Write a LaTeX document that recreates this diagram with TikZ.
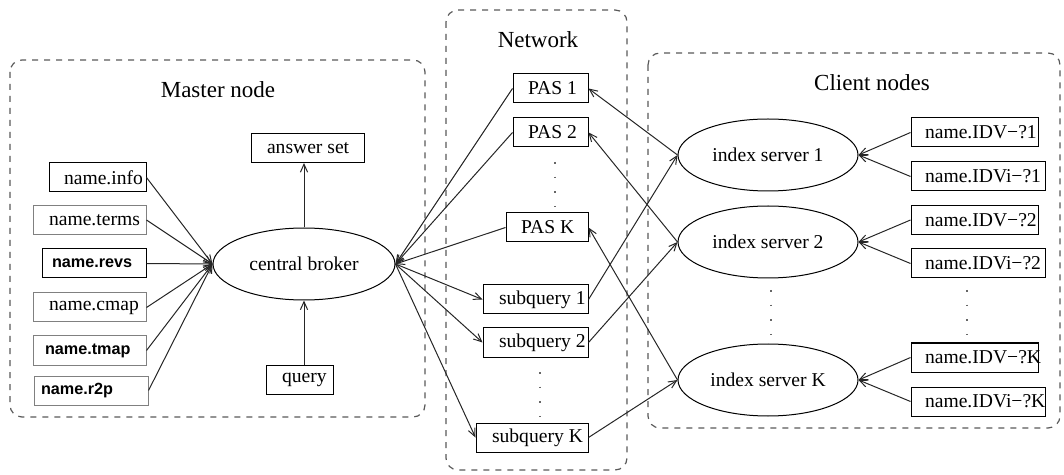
\documentclass[tikz,border=0pt]{standalone}
\usepackage{fontspec}
\setmainfont{Liberation Serif}
\newfontfamily\boldsans{Liberation Sans}
\usetikzlibrary{shapes.geometric,arrows.meta}
\newcommand\padtxt[3]{\makebox[#1][l]{\hspace{#2}#3}}
\begin{document}
\begin{tikzpicture}[x=0.5pt,y=-0.5pt,
  box/.style={draw, line width=0.5pt, inner sep=0pt, minimum height=14.5pt, font=\fontsize{9.8}{11}\selectfont},
  gbox/.style={box, draw=black!50},
  bs/.style={font=\fontsize{8.1}{10}\selectfont\boldsans\bfseries},
  ell/.style={draw, ellipse, line width=0.5pt, inner sep=0pt, minimum width=90pt, minimum height=36pt, font=\fontsize{9.8}{11}\selectfont},
  region/.style={draw=black!65, dashed, line width=0.6pt, rounded corners=6pt},
  title/.style={font=\fontsize{11.5}{13}\selectfont},
  arr/.style={line width=0.5pt, draw=black!85, -{Straight Barb[length=4pt,width=3.6pt]}},
  vdots/.style={line width=0.9pt, dash pattern=on 0.8pt off 6.5pt, draw=black!60}]
\useasboundingbox (0,0) rectangle (1064,475);

% regions
\draw[region] (10,60) rectangle (425,417);
\draw[region] (446,10) rectangle (627,470);
\draw[region] (648,53) rectangle (1060,428);
\node[title] (tmaster) at (218,90) {Master node};
\node[title] (tnet) at (538,40) {Network};
\node[title] (tclient) at (872,83) {Client nodes};

% master node
\node[box] (info) at (97.5,177.5) {\padtxt{48.5pt}{7.5pt}{name.info}};
\node[gbox] (terms) at (89.5,220) {\padtxt{56.5pt}{8pt}{name.terms}};
\node[box,bs] (revs) at (94,263.5) {\padtxt{52pt}{5pt}{name.revs}};
\node[gbox] (cmap) at (89.5,307.5) {\padtxt{56.5pt}{8pt}{name.cmap}};
\node[gbox,bs] (tmap) at (89.5,350.5) {\padtxt{56.5pt}{6pt}{name.tmap}};
\node[gbox,bs] (r2p) at (91,390.5) {\padtxt{57pt}{3.5pt}{name.r2p}};
\node[ell, minimum width=91pt] (broker) at (304,264) {central broker};
\node[box] (answer) at (307.5,148) {\padtxt{56.5pt}{8pt}{answer set}};
\node[box] (query) at (299.5,380) {\padtxt{33.5pt}{8pt}{query}};

\foreach \n in {info,terms,revs,cmap,tmap,r2p}
  \draw[arr] (\n.east) -- (broker.west);
\draw[arr] (broker.north) -- (broker.north |- answer.south);
\draw[arr] (broker.south |- query.north) -- (broker.south);

% network
\node[box] (pas1) at (550.5,88.5) {\padtxt{37.5pt}{7.5pt}{PAS 1}};
\node[box] (pas2) at (550.5,132.5) {\padtxt{37.5pt}{7.5pt}{PAS 2}};
\node[box] (pask) at (547,227.5) {\padtxt{41pt}{7.5pt}{PAS K}};
\node[box] (sq1) at (535.5,299.5) {\padtxt{52.5pt}{8pt}{subquery 1}};
\node[box] (sq2) at (535.5,342.5) {\padtxt{52.5pt}{8pt}{subquery 2}};
\node[box] (sqk) at (532,437.5) {\padtxt{56pt}{8pt}{subquery K}};
\draw[vdots] (555,162) -- (555,210);
\draw[vdots] (540,372) -- (540,420);

% client nodes
\node[ell] (is1) at (768,155) {index server 1};
\node[ell] (is2) at (768,242) {index server 2};
\node[ell] (isk) at (768,380) {index server K};
\node[box] (v1) at (974.5,132.5) {\padtxt{63.5pt}{7pt}{name.IDV−?1}};
\node[box] (vi1) at (978,176.5) {\padtxt{67pt}{7pt}{name.IDVi−?1}};
\node[box] (v2) at (974.5,220) {\padtxt{63.5pt}{7pt}{name.IDV−?2}};
\node[box] (vi2) at (978,263.5) {\padtxt{67pt}{7pt}{name.IDVi−?2}};
\node[box] (vk) at (974.5,357.5) {\padtxt{63.5pt}{7pt}{name.IDV−?K}};
\node[box] (vik) at (978,401.5) {\padtxt{67pt}{7pt}{name.IDVi−?K}};
\draw[vdots] (771,290) -- (771,340);
\draw[vdots] (967,290) -- (967,340);

% connectors
\foreach \n in {pas1,pas2,pask}
  \draw[arr] (\n.west) -- (broker.east);
\foreach \n in {sq1,sq2,sqk}
  \draw[arr] (broker.east) -- (\n.west);
\draw[arr] (is1.west) -- (pas1.east);
\draw[arr] (is2.west) -- (pas2.east);
\draw[arr] (isk.west) -- (pask.east);
\draw[arr] (sq1.east) -- (is1.west);
\draw[arr] (sq2.east) -- (is2.west);
\draw[arr] (sqk.east) -- (isk.west);
\draw[arr] (v1.west) -- (is1.east);
\draw[arr] (vi1.west) -- (is1.east);
\draw[arr] (v2.west) -- (is2.east);
\draw[arr] (vi2.west) -- (is2.east);
\draw[arr] (vk.west) -- (isk.east);
\draw[arr] (vik.west) -- (isk.east);
\end{tikzpicture}
\end{document}
